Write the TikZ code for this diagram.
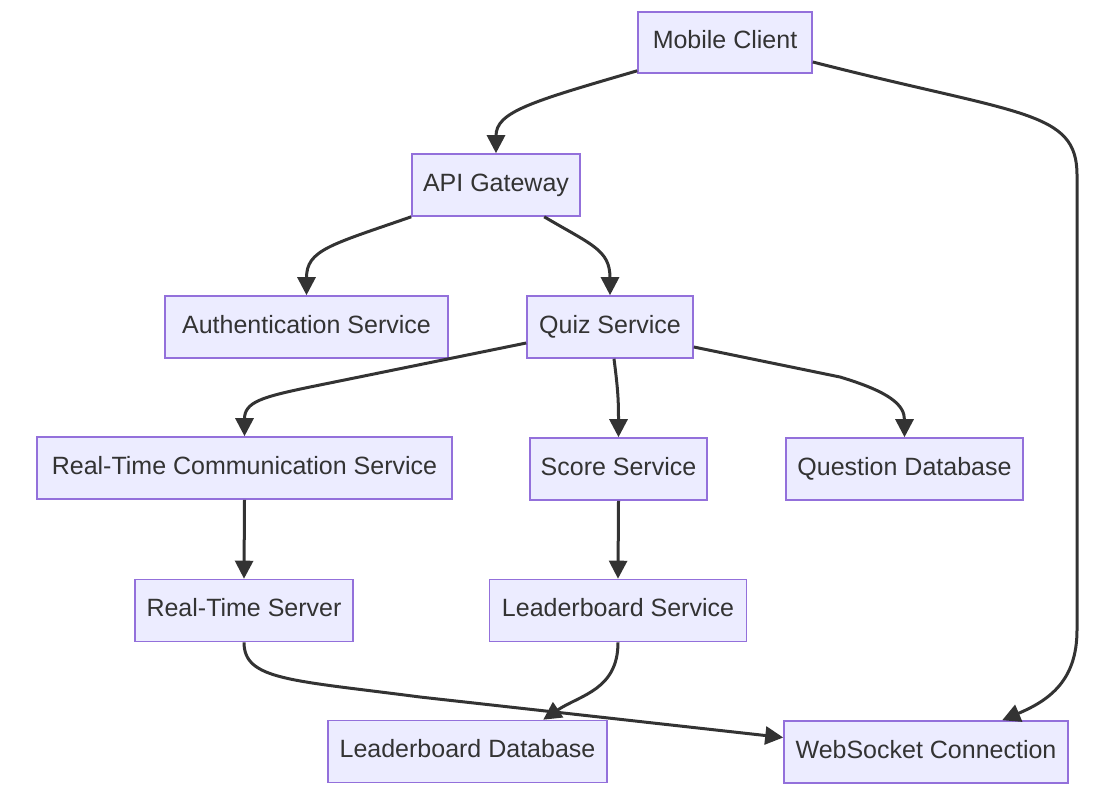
\documentclass[tikz,border=0pt]{standalone}
\usepackage{fontspec}
\setmainfont{Liberation Sans}
\usetikzlibrary{arrows.meta}
\definecolor{nodefill}{HTML}{ECECFF}
\definecolor{nodeline}{HTML}{9370DB}
\definecolor{edgecol}{HTML}{333333}
\begin{document}
\begin{tikzpicture}[x=1pt,y=-1pt,
  box/.style={draw=nodeline, fill=nodefill, line width=1.6pt, minimum height=62pt,
    inner sep=0pt, text=edgecol, font=\fontsize{25}{30}\selectfont,
    text height=18pt, text depth=6pt},
  edge/.style={draw=edgecol, line width=3pt, -{Triangle[length=18pt,width=18pt]}}]
\useasboundingbox (0,0) rectangle (1116,796);

\node[box, minimum width=174pt, minimum height=61pt] (mc) at (725,42.5) {Mobile Client};
\node[box, minimum width=168pt] (api) at (496,185) {API Gateway};
\node[box, minimum width=283pt] (auth) at (306.5,327) {Authentication Service};
\node[box, minimum width=166pt] (quiz) at (610,327) {Quiz Service};
\node[box, minimum width=415pt] (rtc) at (244.5,468) {Real-Time Communication Service};
\node[box, minimum width=177pt] (score) at (618.5,469) {Score Service};
\node[box, minimum width=237pt] (qdb) at (904.5,469) {Question Database};
\node[box, minimum width=218pt] (rts) at (244,610.5) {Real-Time Server};
\node[box, minimum width=257pt] (ls) at (618,610.5) {Leaderboard Service};
\node[box, minimum width=279pt] (ldb) at (467.5,751.5) {Leaderboard Database};
\node[box, minimum width=284pt] (ws) at (926,752) {WebSocket Connection};

% Mobile Client -> API Gateway
\draw[edge] ([yshift=3pt]mc.south west) .. controls (530,102) and (496,112) .. (api.north);
% Mobile Client -> WebSocket Connection
\draw[edge] ([yshift=-19.5pt]mc.east) .. controls (1020,115) and (1077,110) .. (1077,175)
  -- (1077,630) .. controls (1077,680) and (1050,700) .. ([xshift=219pt]ws.north west);
% API Gateway -> Authentication Service
\draw[edge] (api.south west) .. controls (330,245) and (306.5,250) .. (auth.north);
% API Gateway -> Quiz Service
\draw[edge] ([xshift=133pt]api.south west) .. controls (592,245) and (610,250) .. (quiz.north);
% Quiz Service -> Real-Time Communication Service
\draw[edge] ([yshift=-16pt]quiz.west) -- (310,387) .. controls (262,397) and (244.5,402) .. (rtc.north);
% Quiz Service -> Score Service
\draw[edge] ([xshift=4pt]quiz.south) .. controls (618,390) and (618.5,400) .. (score.north);
% Quiz Service -> Question Database
\draw[edge] ([yshift=-20pt]quiz.east) -- (840,377) .. controls (890,392) and (904.5,405) .. (qdb.north);
% Real-Time Communication Service -> Real-Time Server
\draw[edge] (rtc.south) -- (rts.north);
% Score Service -> Leaderboard Service
\draw[edge] (score.south) -- (ls.north);
% Real-Time Server -> WebSocket Connection
\draw[edge] (rts.south) .. controls (244,680) and (290,680) .. (420,697) -- ([yshift=14.5pt]ws.west);
% Leaderboard Service -> Leaderboard Database
\draw[edge] (ls.south) .. controls (618,690) and (580,695) .. ([xshift=216pt]ldb.north west);
\end{tikzpicture}
\end{document}
